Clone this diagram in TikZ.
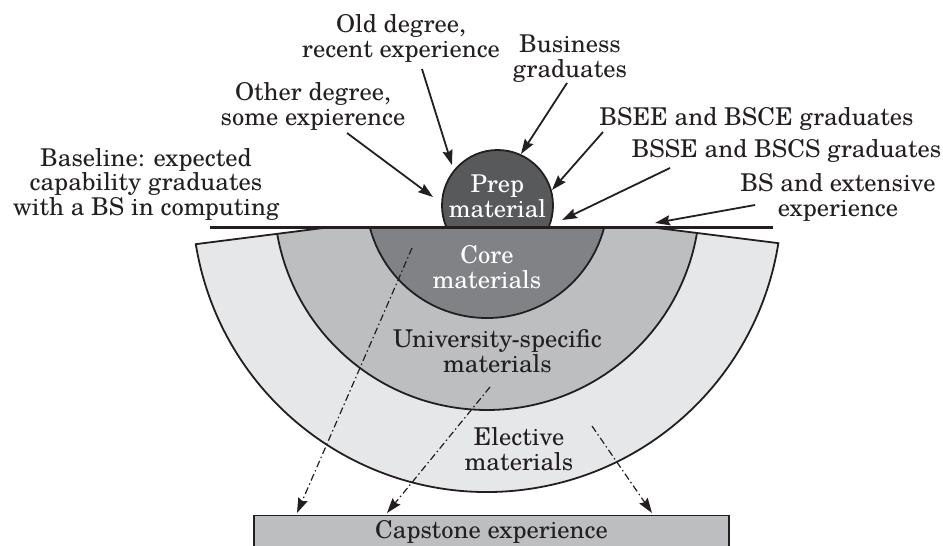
\documentclass[tikz,border=0pt]{standalone}
\usepackage{fontspec}
\setmainfont{TeX Gyre Schola}
\usetikzlibrary{arrows.meta}
\definecolor{prepgray}{RGB}{88,89,91}
\definecolor{coregray}{RGB}{128,130,133}
\definecolor{unigray}{RGB}{188,190,192}
\definecolor{elecgray}{RGB}{230,231,232}
\definecolor{capgray}{RGB}{188,190,192}
\definecolor{ink}{RGB}{35,31,32}
\tikzset{
  lbl/.style={font=\fontsize{24.5}{24.5}\selectfont, text=ink, align=center, inner sep=0pt, anchor=base},
  wlbl/.style={lbl, text=white},
  ringline/.style={draw=ink, line width=1.8pt, line join=miter},
  arr/.style={draw=ink, line width=1.8pt, -{Stealth[length=15pt,width=10pt,inset=2pt]}},
  dd/.style={draw=ink, line width=1.2pt, dash pattern=on 7pt off 3pt on 1.5pt off 3pt, -{Stealth[length=15pt,width=10pt,inset=2pt]}},
  capbox/.style={draw=ink, fill=capgray, line width=1.8pt, minimum width=475pt, inner xsep=0pt, inner ysep=5pt, text height=18pt, text depth=30pt, font=\fontsize{24.5}{24.5}\selectfont, text=ink, anchor=north}
}
\def\elecpath{(327,-227.5) -- ([shift={(487,-197)}]189.2:295) arc[start angle=189.2, end angle=351, radius=295] -- (653,-227.5) -- cycle}
\begin{document}
\begin{tikzpicture}[x=1pt,y=1pt]
\useasboundingbox (0,0) rectangle (943,-546);
% elective ring
\fill[elecgray] \elecpath;
% university-specific ring
\begin{scope}
  \clip \elecpath;
  \filldraw[fill=unigray, ringline] (487,-197) circle (213);
\end{scope}
% core
\begin{scope}
  \clip (150,-227.5) rectangle (800,-500);
  \filldraw[fill=coregray, ringline] (487,-197) circle (121);
\end{scope}
\draw[ringline] \elecpath;
% prep
\node[circle, minimum size=111pt, inner sep=0pt] (prep) at (497.5,-205.5) {};
\begin{scope}
  \clip (400,-227.5) rectangle (600,-100);
  \filldraw[fill=prepgray, ringline] (497.5,-205.5) circle (55.5);
\end{scope}
% baseline
\draw[ink, line width=3.3pt] (210,-227.5) -- (773,-227.5);
% capstone
\node[capbox] (cap) at (491.5,-514.5) {Capstone experience};
% texts (anchor = baseline of the last line)
\node[wlbl] (preptxt) at (497.5,-217) {Prep\\material};
\node[wlbl] (coretxt) at (487,-288) {Core\\materials};
\node[lbl] (unitxt) at (497.5,-372) {University-specific\\materials};
\node[lbl] (electxt) at (519,-470) {Elective\\materials};
\node[lbl] (basetxt) at (146,-215) {Baseline: expected\\capability graduates\\with a BS in computing};
\node[lbl] (other) at (313,-125) {Other degree,\\some expierence};
\node[lbl] (old) at (401,-57) {Old degree,\\recent experience};
\node[lbl] (bus) at (570,-77) {Business\\graduates};
\node[lbl] (bsee) at (756.5,-125) {BSEE and BSCE graduates};
\node[lbl] (bsse) at (786.5,-157) {BSSE and BSCS graduates};
\node[lbl] (bsext) at (838,-216) {BS and extensive\\experience};
% arrow coordinates
\coordinate (s1) at (347,-133); \coordinate (t1) at (433,-197);
\coordinate (s2) at (422,-69);  \coordinate (t2) at (452,-165);
\coordinate (s3) at (567,-83);  \coordinate (t3) at (521,-154);
\coordinate (s4) at (603,-132); \coordinate (t4) at (552,-190);
\coordinate (s5) at (670,-168); \coordinate (t5) at (562,-220);
\coordinate (s6) at (755,-205); \coordinate (t6) at (655,-223);
\draw[arr] (s1) -- (t1);
\draw[arr] (s2) -- (t2);
\draw[arr] (s3) -- (t3);
\draw[arr] (s4) -- (t4);
\draw[arr] (s5) -- (t5);
\draw[arr] (s6) -- (t6);
% dash-dot arrows
\coordinate (d1) at (412,-248); \coordinate (e1) at (297,-513);
\coordinate (d2) at (490,-387); \coordinate (e2) at (387,-513);
\coordinate (d3) at (592,-426); \coordinate (e3) at (652,-513);
\draw[dd] (d1) -- (e1);
\draw[dd] (d2) -- (e2);
\draw[dd] (d3) -- (e3);
\end{tikzpicture}
\end{document}
